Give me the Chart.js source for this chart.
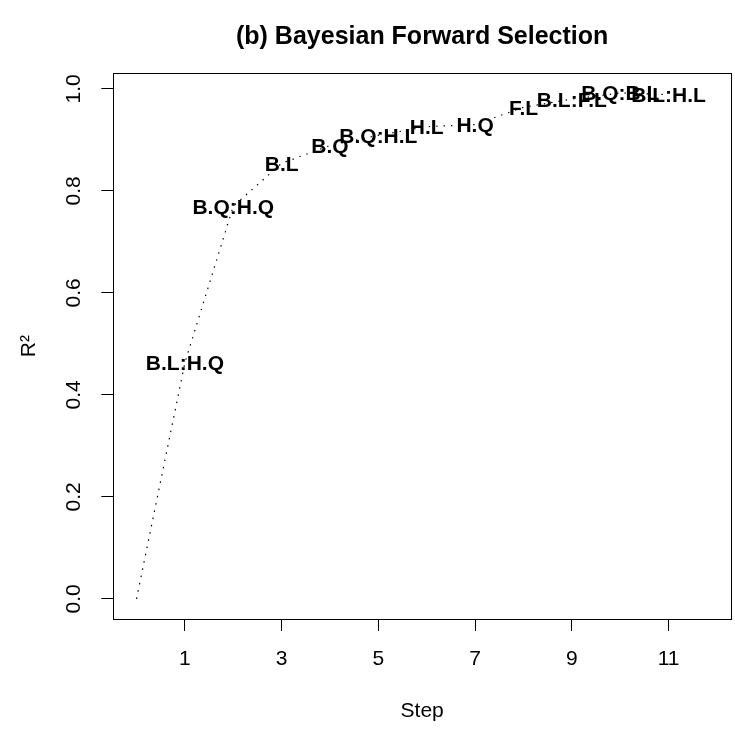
<!DOCTYPE html>
<html><head><meta charset="utf-8">
<script src="https://cdn.jsdelivr.net/npm/chart.js@4"></script>
<style>html,body{margin:0;padding:0;background:#fff}#wrap{width:735px;height:729px}</style>
</head><body><div id="wrap"><canvas id="c" width="735" height="729"></canvas></div>
<script>
const steps = [0, 1, 2, 3, 4, 5, 6, 7, 8, 9, 10, 11];
const r2 = [0, 0.463, 0.770, 0.854, 0.889, 0.909, 0.926, 0.930, 0.964, 0.980, 0.992, 0.989];
const termLabels = ["", "B.L:H.Q", "B.Q:H.Q", "B.L", "B.Q", "B.Q:H.L", "H.L", "H.Q", "F.L", "B.L:F.L", "B.Q:B.L", "B.L:H.L"];
const xTicks = [1, 3, 5, 7, 9, 11];
const yTicks = [0, 0.2, 0.4, 0.6, 0.8, 1.0];
const yTickLabels = ["0.0", "0.2", "0.4", "0.6", "0.8", "1.0"];

const FONT = "'Liberation Sans', Arial, Helvetica, sans-serif";

const termLabelPlugin = {
  id: 'termLabels',
  afterDatasetsDraw(chart) {
    const ctx = chart.ctx;
    const meta = chart.getDatasetMeta(0);
    ctx.save();
    ctx.font = "bold 21px " + FONT;
    ctx.fillStyle = '#000';
    ctx.textAlign = 'center';
    ctx.textBaseline = 'alphabetic';
    meta.data.forEach((pt, i) => {
      if (!termLabels[i]) return;
      ctx.fillText(termLabels[i], pt.x, pt.y + 7.5);
    });
    ctx.restore();
  }
};

const boxPlugin = {
  id: 'box',
  afterLayout(chart) {
    const ca = chart.chartArea;
    if (chart.titleBlock) { chart.titleBlock.left = ca.left; chart.titleBlock.right = ca.right; }
  },
  afterDraw(chart) {
    const ca = chart.chartArea;
    const ctx = chart.ctx;
    ctx.save();
    ctx.strokeStyle = '#000';
    ctx.lineWidth = 1;
    ctx.strokeRect(Math.round(ca.left) + 0.5, Math.round(ca.top) + 0.5, Math.round(ca.right - ca.left), Math.round(ca.bottom - ca.top));
    ctx.restore();
  }
};

new Chart(document.getElementById('c'), {
  type: 'line',
  data: {
    datasets: [{
      data: steps.map((s, i) => ({ x: s, y: r2[i] })),
      borderColor: '#000',
      borderWidth: 1.2,
      borderDash: [1.4, 6],
      borderCapStyle: 'butt',
      pointRadius: 0,
      fill: false,
      tension: 0
    }]
  },
  options: {
    responsive: false,
    devicePixelRatio: 1,
    animation: false,
    layout: { padding: { left: 0, right: 4, top: 0, bottom: 0 } },
    plugins: {
      legend: { display: false },
      tooltip: { enabled: false },
      title: {
        display: true,
        text: '(b) Bayesian Forward Selection',
        color: '#000',
        font: { family: FONT, size: 25, weight: 'bold', lineHeight: 1.2 },
        padding: { top: 22, bottom: 21.3 }
      }
    },
    scales: {
      x: {
        type: 'linear',
        min: -0.48,
        max: 12.29,
        border: { display: false },
        grid: { display: true, drawOnChartArea: false, drawTicks: true, tickLength: 12, color: '#000', lineWidth: 1 },
        afterBuildTicks(scale) { scale.ticks = xTicks.map(v => ({ value: v })); },
        afterFit(scale) { scale.height = 110; },
        ticks: {
          color: '#000',
          font: { family: FONT, size: 21 },
          padding: 16,
          maxRotation: 0,
          autoSkip: false,
          callback: (v) => String(v)
        },
        title: {
          display: true, text: 'Step', color: '#000',
          font: { family: FONT, size: 21 },
          padding: { top: 0, bottom: 5 }
        }
      },
      y: {
        type: 'linear',
        min: -0.0396,
        max: 1.0306,
        border: { display: false },
        grid: { display: true, drawOnChartArea: false, drawTicks: true, tickLength: 12, color: '#000', lineWidth: 1 },
        afterBuildTicks(scale) { scale.ticks = yTicks.map(v => ({ value: v })); },
        afterFit(scale) { scale.width = 113.3; },
        ticks: {
          color: '#000',
          font: { family: FONT, size: 21 },
          padding: 13,
          minRotation: 90,
          maxRotation: 90,
          crossAlign: 'center',
          autoSkip: false,
          callback: (v) => { const k = yTicks.findIndex(t => Math.abs(t - v) < 1e-9); return k >= 0 ? yTickLabels[k] : ''; }
        },
        title: {
          display: true, text: 'R²', color: '#000',
          font: { family: FONT, size: 21 },
          padding: { top: 17, bottom: 0 }
        }
      }
    }
  },
  plugins: [termLabelPlugin, boxPlugin]
});
</script>
</body></html>
